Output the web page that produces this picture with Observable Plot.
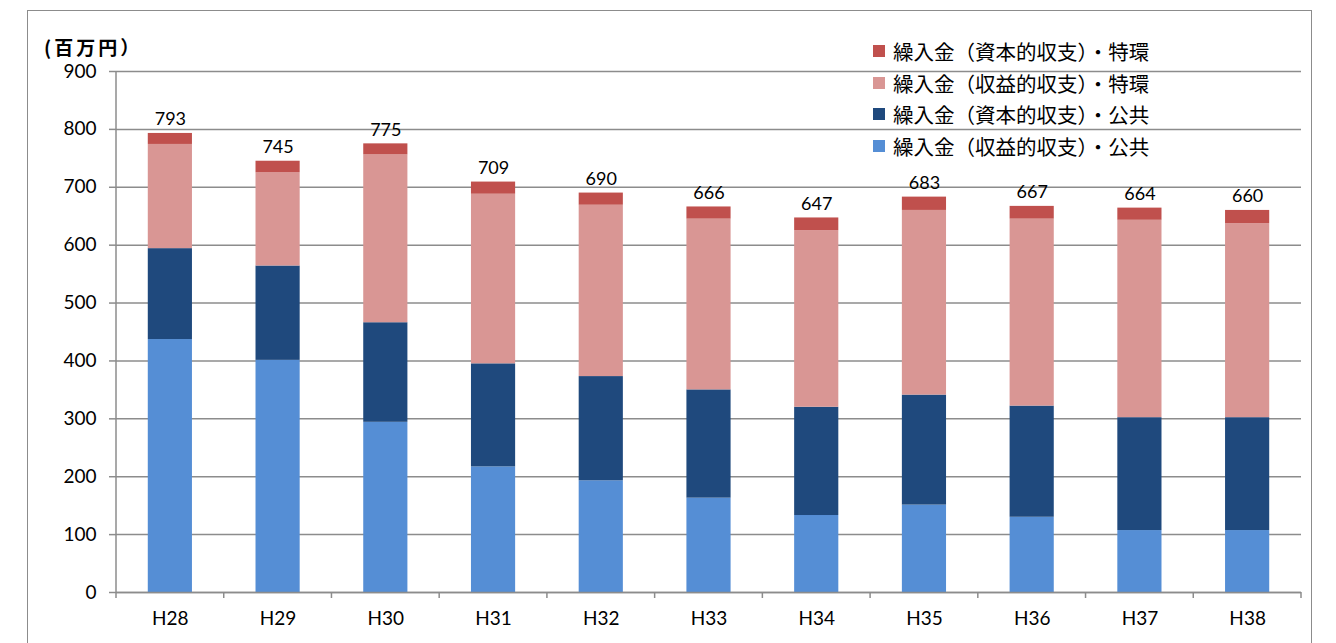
<!DOCTYPE html>
<html>
<head>
<meta charset="utf-8">
<script src="https://cdn.jsdelivr.net/npm/d3@7"></script>
<script src="https://cdn.jsdelivr.net/npm/@observablehq/plot@0.6"></script>
<style>
  body { margin: 0; background: #fff; }
  #wrap { position: relative; width: 1336px; height: 643px; overflow: hidden; font-family: Lato, "Noto Sans CJK JP", sans-serif; }
  #frame { position: absolute; left: 27px; top: 10px; width: 1285px; height: 700px; border: 1.5px solid #8c8c8c; box-sizing: border-box; }
  #chart { position: absolute; left: 0; top: 0; }
  #unit { position: absolute; left: 44px; top: 33px; font: bold 19px "Noto Sans CJK JP", sans-serif; letter-spacing: 3px; color: #000; }
  #legend { position: absolute; left: 873px; top: 35px; font: 20.5px "Noto Sans CJK JP", sans-serif; color: #000; }
  .item { display: flex; align-items: center; height: 31.7px; }
  .sw { width: 12px; height: 12px; margin-right: 8px; flex: none; }
</style>
</head>
<body>
<div id="wrap">
  <div id="frame"></div>
  <div id="chart"></div>
  <div id="unit">(百万円）</div>
  <div id="legend"></div>
</div>
<script>
// 年度
const years = ["H28", "H29", "H30", "H31", "H32", "H33", "H34", "H35", "H36", "H37", "H38"];

// 系列名（積み上げの下から順）
const seriesNames = [
  "繰入金（収益的収支）・公共",
  "繰入金（資本的収支）・公共",
  "繰入金（収益的収支）・特環",
  "繰入金（資本的収支）・特環"
];
const seriesColors = ["#558ed5", "#1f497d", "#d99694", "#c0504d"];

// 繰入金（百万円）
const publicRevenue  = [437, 401, 294, 217, 193, 163, 133, 151, 130, 107, 107];
const publicCapital  = [157, 163, 172, 178, 180, 187, 187, 190, 192, 195, 195];
const specialRevenue = [180, 161, 290, 293, 296, 295, 305, 319, 323, 341, 335];
const specialCapital = [19, 20, 19, 21, 21, 21, 22, 23, 22, 21, 23];

// 合計（棒の上のラベル）
const totals = [793, 745, 775, 709, 690, 666, 647, 683, 667, 664, 660];

const yTicks = [0, 100, 200, 300, 400, 500, 600, 700, 800, 900];

const seriesValues = [publicRevenue, publicCapital, specialRevenue, specialCapital];
const rows = [];
years.forEach((year, i) => {
  seriesNames.forEach((name, s) => rows.push({year, series: name, value: seriesValues[s][i]}));
});
const labels = years.map((year, i) => ({year, total: totals[i]}));

const gray = "#8c8c8c";

// 縦軸線と項目境界の目盛り
function axisLines(index, scales, values, dims) {
  const {y} = scales;
  const g = d3.create("svg:g").attr("stroke", gray).attr("stroke-width", 1.5);
  const left = dims.marginLeft, right = dims.width - dims.marginRight;
  const y0 = y(0);
  g.append("line").attr("x1", left).attr("x2", left).attr("y1", y(900)).attr("y2", y0);
  const step = (right - left) / years.length;
  for (let i = 0; i <= years.length; i++) {
    const bx = left + i * step;
    g.append("line").attr("x1", bx).attr("x2", bx).attr("y1", y0).attr("y2", y0 + 6);
  }
  return g.node();
}

const chart = Plot.plot({
  width: 1336,
  height: 643,
  marginLeft: 116,
  marginRight: 35,
  marginTop: 71,
  marginBottom: 51,
  style: {fontFamily: 'Lato, "Noto Sans CJK JP", sans-serif', color: "#000", background: "transparent", overflow: "visible"},
  x: {domain: years, paddingInner: 0.59, paddingOuter: 0.295, round: false, label: null},
  y: {domain: [0, 900], label: null},
  color: {domain: seriesNames, range: seriesColors},
  marks: [
    Plot.gridY(yTicks, {stroke: gray, strokeOpacity: 1, strokeWidth: 1.5}),
    Plot.barY(rows, {x: "year", y: "value", fill: "series", order: seriesNames}),
    Plot.ruleY([0], {stroke: gray, strokeWidth: 1.5}),
    axisLines,
    Plot.axisY(yTicks, {tickSize: 7, tickPadding: 13, stroke: gray, strokeWidth: 1.5, fontSize: 19, fill: "#000"}),
    Plot.axisX({tickSize: 0, tickPadding: 19, fontSize: 19, fill: "#000"}),
    Plot.text(labels, {x: "year", y: "total", text: d => String(d.total), dy: -14, fontSize: 18, fill: "#000"})
  ]
});
document.getElementById("chart").appendChild(chart);

// 凡例（上から特環・資本、特環・収益、公共・資本、公共・収益）
const legend = document.getElementById("legend");
seriesNames.slice().reverse().forEach((name) => {
  const color = seriesColors[seriesNames.indexOf(name)];
  const item = document.createElement("div");
  item.className = "item";
  item.innerHTML = `<span class="sw" style="background:${color}"></span><span>${name}</span>`;
  legend.appendChild(item);
});
</script>
</body>
</html>
